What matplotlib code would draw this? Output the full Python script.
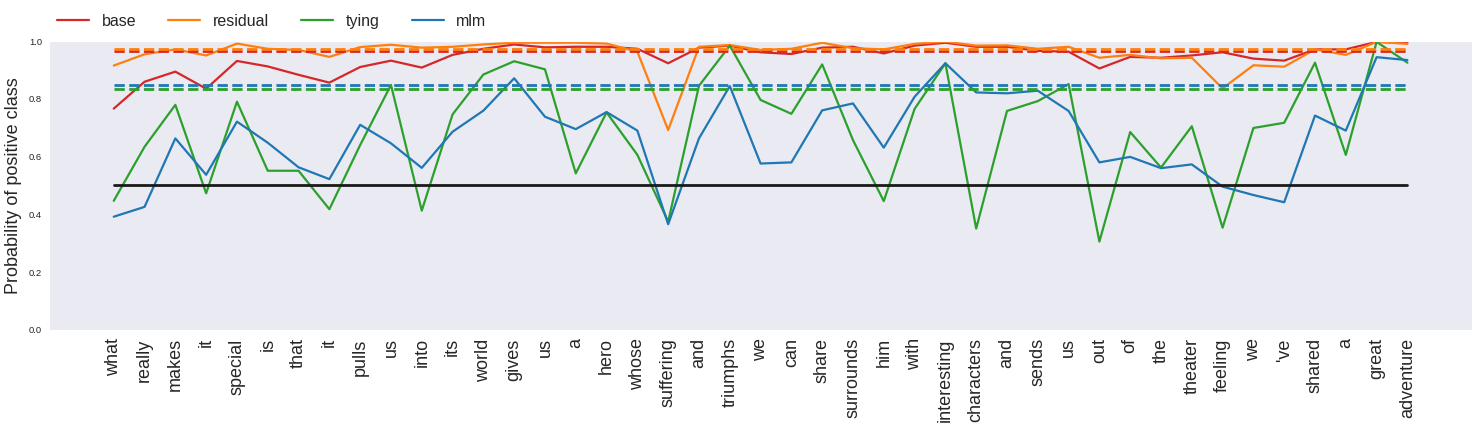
import numpy as np
import seaborn as sns
from matplotlib import pyplot as plt

sns.set_style("dark")
plt.rcParams['font.family'] = ['Liberation Sans', 'DejaVu Sans']

words = ['what', 'really', 'makes', 'it', 'special', 'is', 'that', 'it', 'pulls', 'us',
         'into', 'its', 'world', 'gives', 'us', 'a', 'hero', 'whose', 'suffering', 'and',
         'triumphs', 'we', 'can', 'share', 'surrounds', 'him', 'with', 'interesting',
         'characters', 'and', 'sends', 'us', 'out', 'of', 'the', 'theater', 'feeling',
         'we', "'ve", 'shared', 'a', 'great', 'adventure']

base = [0.766, 0.859, 0.894, 0.835, 0.931, 0.912, 0.883, 0.856, 0.910, 0.932,
        0.908, 0.952, 0.973, 0.988, 0.978, 0.980, 0.980, 0.973, 0.923, 0.977,
        0.984, 0.961, 0.955, 0.977, 0.980, 0.957, 0.984, 0.994, 0.980, 0.980,
        0.966, 0.963, 0.905, 0.945, 0.942, 0.950, 0.961, 0.939, 0.932, 0.971,
        0.971, 0.997, 0.994]
residual = [0.915, 0.954, 0.971, 0.950, 0.991, 0.973, 0.969, 0.945, 0.979, 0.987,
            0.977, 0.980, 0.988, 0.994, 0.994, 0.994, 0.991, 0.963, 0.692, 0.980,
            0.986, 0.969, 0.973, 0.994, 0.975, 0.971, 0.990, 0.998, 0.984, 0.985,
            0.973, 0.980, 0.942, 0.952, 0.940, 0.942, 0.836, 0.916, 0.911, 0.971,
            0.952, 0.997, 0.990]
tying = [0.447, 0.634, 0.779, 0.473, 0.790, 0.551, 0.551, 0.418, 0.640, 0.848,
         0.413, 0.746, 0.884, 0.930, 0.902, 0.542, 0.753, 0.606, 0.375, 0.845,
         0.984, 0.796, 0.748, 0.919, 0.657, 0.446, 0.765, 0.923, 0.351, 0.758,
         0.792, 0.851, 0.306, 0.685, 0.562, 0.705, 0.354, 0.699, 0.717, 0.925,
         0.606, 0.997, 0.925]
mlm = [0.392, 0.426, 0.663, 0.537, 0.721, 0.648, 0.563, 0.522, 0.710, 0.646,
       0.561, 0.686, 0.759, 0.871, 0.738, 0.695, 0.754, 0.690, 0.366, 0.663,
       0.844, 0.576, 0.580, 0.760, 0.784, 0.631, 0.807, 0.923, 0.822, 0.819,
       0.828, 0.758, 0.580, 0.599, 0.560, 0.573, 0.496, 0.467, 0.442, 0.742,
       0.690, 0.944, 0.934]

models = ['base', 'residual', 'tying', 'mlm']
colors = ['#d62728', '#ff7f0e', '#2ca02c', '#1f77b4']
# sentence-level reference scores, drawn dashed
reference = [0.966, 0.972, 0.835, 0.848]

series = [base, residual, tying, mlm]
x = np.arange(len(words))

fig = plt.figure(figsize=(14.78, 4.28), dpi=100)
ax = fig.add_axes([0.0332, 0.229, 0.9628, 0.6752])

for name, vals, c in zip(models, series, colors):
    ax.plot(x, vals, color=c, lw=1.6, label=name)
for ref, c in zip(reference, colors):
    ax.plot(x, [ref] * len(x), '--', color=c, lw=2)
ax.plot(x, [0.5] * len(x), color='#1a1a1a', lw=2)

ax.set_ylim(0, 1.0)
ax.set_yticks(np.arange(0, 1.01, 0.2))
ax.tick_params(axis='y', labelsize=6.8, length=0, pad=5)
ax.tick_params(axis='x', length=0, pad=6)
ax.set_xticks(x)
ax.set_xticklabels(words, rotation=90, fontsize=13)
ax.set_ylabel('Probability of positive class', fontsize=13, labelpad=5)
ax.grid(False)

ax.legend(loc='lower left', bbox_to_anchor=(-0.0045, 0.993), ncol=4,
          frameon=False, fontsize=11.5)

plt.savefig('out.png', dpi=100)
